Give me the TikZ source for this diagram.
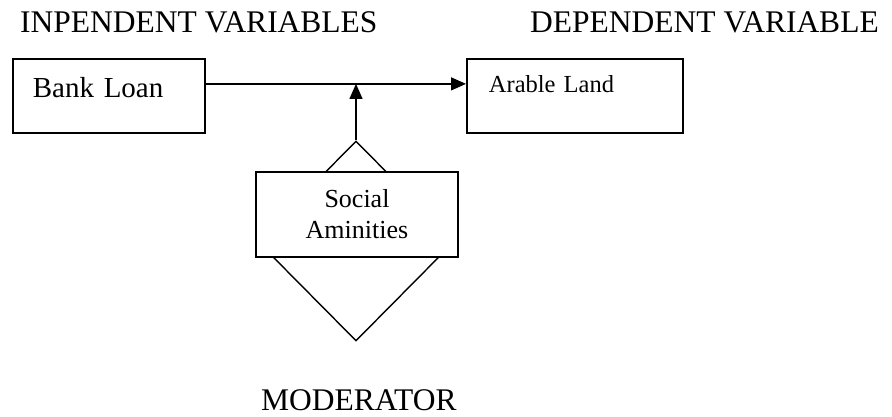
\documentclass[tikz,border=0pt]{standalone}
\usepackage{fontspec}
\setmainfont{Liberation Serif}
\usetikzlibrary{arrows.meta,shapes.geometric}
\tikzset{
  headtext/.style={anchor=base west, inner sep=0pt, font=\fontsize{31.5}{36}\selectfont},
  varbox/.style={draw, line width=1.8pt, inner ysep=0pt, align=left, anchor=north west},
  link/.style={-{Triangle[length=15pt,width=13pt]}, line width=1.3pt},
}
\begin{document}
\begin{tikzpicture}[x=1pt, y=-1pt]
  \useasboundingbox (0,0) rectangle (892,417);
  % headings
  \node[headtext] (indep) at (20,33) {INPENDENT VARIABLES};
  \node[headtext] (dep) at (530,33) {DEPENDENT VARIABLE};
  % variable boxes
  \node[varbox, inner xsep=20pt, text width=152pt, text height=39pt, text depth=35pt,
        font=\fontsize{29}{34}\selectfont] (loan) at (12,58) {Bank Loan};
  \node[varbox, inner xsep=22pt, text width=172pt, text height=34pt, text depth=40pt,
        font=\fontsize{24.5}{29}\selectfont] (land) at (466,58) {Arable Land};
  % moderator
  \node[draw, diamond, line width=1.4pt, minimum width=198pt, minimum height=200pt,
        inner sep=0pt] (mod) at (356,241) {};
  \node[draw, line width=1.8pt, fill=white, minimum width=202pt, minimum height=85pt,
        align=center, font=\fontsize{26}{31}\selectfont] (amen) at (357,214.5) {Social\\Aminities};
  \node[headtext] (modlabel) at (261,410) {MODERATOR};
  % links
  \coordinate (loanline) at ([yshift=12pt]loan.east);
  \draw[link] (loanline) -- ([yshift=12pt]land.west);
  \draw[link] (mod.north) -- (mod.north |- loanline);
\end{tikzpicture}
\end{document}
